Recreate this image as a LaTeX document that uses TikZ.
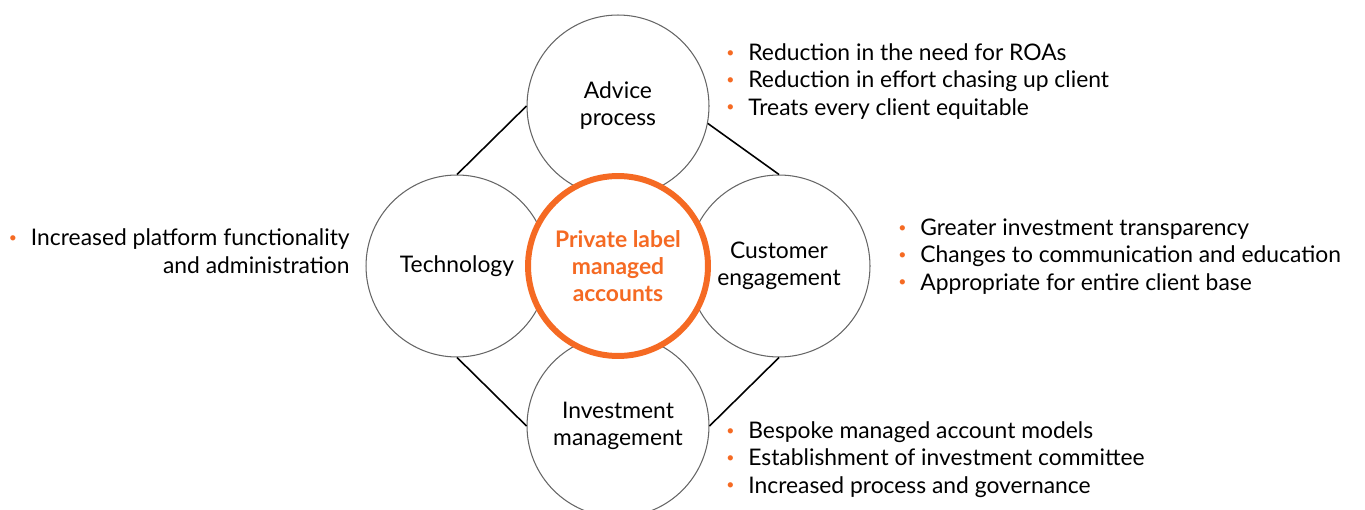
\documentclass[tikz,border=0pt]{standalone}
\usepackage{fontspec}
\setmainfont{Lato}
\usepackage{tikz}

\definecolor{plorange}{RGB}{245,106,35}
\newcommand{\bul}{\makebox[0.44cm][l]{\raisebox{2pt}{\textcolor{plorange}{\fontsize{8}{8}\selectfont\textbullet}}}}

\begin{document}
\begin{tikzpicture}
  [x=0.02cm, y=-0.02cm,
   every node/.style={font=\fontsize{13}{15.4}\selectfont},
   topic/.style={circle, draw=black!60, line width=0.6pt, minimum size=3.64cm,
     align=center, inner sep=0pt},
   hub/.style={circle, draw=plorange, line width=3.4pt, fill=white,
     minimum size=3.6cm, align=center, inner sep=0pt, text=plorange,
     font=\fontsize{13}{15.4}\selectfont\bfseries},
   link/.style={draw=black, line width=0.9pt},
   benefits/.style={anchor=base west, align=left, inner sep=0pt}]
  \useasboundingbox (0,0) rectangle (1365,510);

  \node[topic] (adv) at (618, 106) {Advice\\process};
  \node[topic] (tech) at (457, 266) {Technology};
  \node[topic] (cust) at (779, 266) {Customer\\engagement};
  \node[topic] (inv) at (618, 426) {Investment\\management};
  \node[hub] (plma) at (618, 266) {Private label\\managed\\accounts};

  \foreach \from/\to in {adv.west/tech.north,adv.-11/cust.north,
    tech.south/inv.west,cust.south/inv.east}
  \draw[link] (\from) -- (\to);

  % the base anchor sits on the last line
  \node[benefits] (advlist) at (726, 115)
    {\bul Reduction in the need for ROAs\\
     \bul Reduction in effort chasing up client\\
     \bul Treats every client equitable};
  \node[benefits] (custlist) at (898, 290)
    {\bul Greater investment transparency\\
     \bul Changes to communication and education\\
     \bul Appropriate for entire client base};
  \node[benefits] (invlist) at (726, 493)
    {\bul Bespoke managed account models\\
     \bul Establishment of investment committee\\
     \bul Increased process and governance};
  \node[benefits, anchor=base east, align=right] (techlist) at (350, 273)
    {\bul Increased platform functionality\\
     and administration};

\end{tikzpicture}
\end{document}
